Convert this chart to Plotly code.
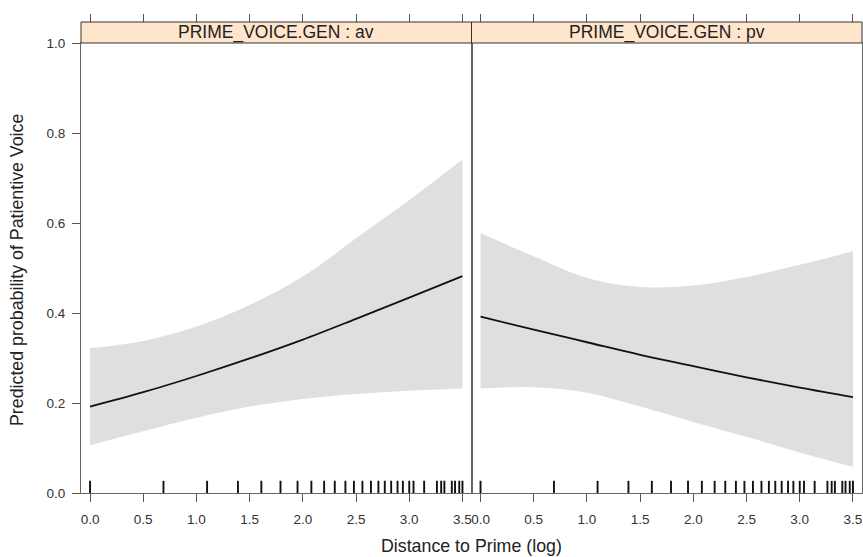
import plotly.graph_objects as go

# ---------------- data ----------------
x_grid = [0.0, 0.5, 1.0, 1.5, 2.0, 2.5, 3.0, 3.5]

fit_av   = [0.192, 0.224, 0.260, 0.299, 0.341, 0.387, 0.434, 0.482]
lower_av = [0.106, 0.137, 0.167, 0.192, 0.209, 0.220, 0.227, 0.232]
upper_av = [0.322, 0.338, 0.370, 0.418, 0.481, 0.566, 0.651, 0.741]

fit_pv   = [0.392, 0.363, 0.335, 0.307, 0.282, 0.257, 0.234, 0.213]
lower_pv = [0.232, 0.235, 0.223, 0.192, 0.158, 0.125, 0.090, 0.058]
upper_pv = [0.578, 0.526, 0.478, 0.458, 0.461, 0.480, 0.507, 0.537]

panel_levels = ["av", "pv"]
strip_prefix = "PRIME_VOICE.GEN"

# rug: observed distances (log scale)
rug_distance_log = [0.00, 0.69, 1.10, 1.39, 1.61, 1.79, 1.95, 2.08, 2.20, 2.30,
                    2.40, 2.48, 2.56, 2.64, 2.71, 2.77, 2.83, 2.89, 2.94, 3.00,
                    3.04, 3.14, 3.26, 3.30, 3.33, 3.40, 3.43, 3.47, 3.50]

x_tick_vals = [0.0, 0.5, 1.0, 1.5, 2.0, 2.5, 3.0, 3.5]
x_tick_text = ["0.0", "0.5", "1.0", "1.5", "2.0", "2.5", "3.0", "3.5"]
y_tick_vals = [0.0, 0.2, 0.4, 0.6, 0.8, 1.0]
y_tick_text = ["0.0", "0.2", "0.4", "0.6", "0.8", "1.0"]

x_title = "Distance to Prime (log)"
y_title = "Predicted probability of Patientive Voice"

# ---------------- layout geometry ----------------
W, H = 863, 557
ML, MR, MT, MB = 81, 1, 22, 64
plot_h = H - MT - MB          # includes strip
plot_w = W - ML - MR
panel_bottom_px = H - MB
panel_h = 450
ytop = panel_h / plot_h
x_range = [-0.085, 3.585]
rug_h = 0.027

FONT = "Liberation Sans, Arial, Helvetica, sans-serif"
BAND = "#DFDFDF"
AXC = "#666666"
TICK_FS = 13.5
TITLE_FS = 17.8

panels = {
    "av": (fit_av, lower_av, upper_av),
    "pv": (fit_pv, lower_pv, upper_pv),
}

fig = go.Figure()
for i, lev in enumerate(panel_levels):
    fit, lo, up = panels[lev]
    xa = "x" if i == 0 else "x2"
    ya = "y" if i == 0 else "y2"
    fig.add_trace(go.Scatter(x=x_grid, y=lo, mode="lines",
                             line=dict(width=0, shape="spline", color=BAND),
                             xaxis=xa, yaxis=ya, hoverinfo="skip", showlegend=False))
    fig.add_trace(go.Scatter(x=x_grid, y=up, mode="lines", fill="tonexty",
                             fillcolor=BAND,
                             line=dict(width=0, shape="spline", color=BAND),
                             xaxis=xa, yaxis=ya, hoverinfo="skip", showlegend=False))
    fig.add_trace(go.Scatter(x=x_grid, y=fit, mode="lines",
                             line=dict(width=1.8, shape="spline", color="#111111"),
                             xaxis=xa, yaxis=ya, showlegend=False))
    rx, ry = [], []
    for v in rug_distance_log:
        rx += [v, v, None]
        ry += [0, rug_h, None]
    fig.add_trace(go.Scatter(x=rx, y=ry, mode="lines",
                             line=dict(width=1.9, color="#111111"),
                             xaxis=xa, yaxis=ya, hoverinfo="skip", showlegend=False))

# invisible traces so the top tick axes are drawn
fig.add_trace(go.Scatter(x=[None], y=[None], xaxis="x3", yaxis="y", showlegend=False))
fig.add_trace(go.Scatter(x=[None], y=[None], xaxis="x4", yaxis="y2", showlegend=False))

xbase = dict(range=x_range, tickvals=x_tick_vals, ticktext=x_tick_text,
             ticks="outside", ticklen=8, tickcolor="#555555", tickwidth=1,
             ticklabelstandoff=6,
             showline=True, linecolor=AXC, linewidth=1, mirror=True,
             showgrid=False, zeroline=False,
             tickfont=dict(family=FONT, size=TICK_FS, color="#333333"))
xtop = dict(range=x_range, tickvals=x_tick_vals, ticks="outside", ticklen=8,
            tickcolor="#555555", tickwidth=1, showticklabels=False,
            showline=False, showgrid=False, zeroline=False,
            side="top", anchor="free", position=1)
ybase = dict(range=[0, 1], domain=[0, ytop], showgrid=False, zeroline=False,
             showline=True, linecolor=AXC, linewidth=1, mirror=True)

fig.update_layout(
    width=W, height=H,
    margin=dict(l=ML, r=MR, t=MT, b=MB, pad=0),
    paper_bgcolor="white", plot_bgcolor="white",
    showlegend=False,
    font=dict(family=FONT, size=TICK_FS, color="#333333"),
    xaxis=dict(domain=[0, 0.5], anchor="y", **xbase),
    xaxis2=dict(domain=[0.5, 1], anchor="y2", **xbase),
    xaxis3=dict(overlaying="x", **xtop),
    xaxis4=dict(overlaying="x2", **xtop),
    yaxis=dict(anchor="x", tickvals=y_tick_vals, ticktext=y_tick_text,
               ticks="outside", ticklen=8, tickcolor="#555555",
               ticklabelstandoff=4,
               tickfont=dict(family=FONT, size=TICK_FS, color="#333333"), **ybase),
    yaxis2=dict(anchor="x2", showticklabels=False, ticks="", **ybase),
)

# strips
for i, lev in enumerate(panel_levels):
    x0, x1 = (0, 0.5) if i == 0 else (0.5, 1)
    fig.add_shape(type="rect", xref="paper", yref="paper", x0=x0, x1=x1,
                  y0=ytop, y1=1, fillcolor="#FFE5CC",
                  line=dict(color="#333333", width=1), layer="above")
    fig.add_annotation(xref="paper", yref="paper", x=(x0 + x1) / 2,
                       y=(ytop + 1) / 2, text=f"{strip_prefix} : {lev}",
                       showarrow=False, xanchor="center", yanchor="middle",
                       font=dict(family=FONT, size=17.5, color="#222222"))

# axis titles
fig.add_annotation(xref="paper", yref="paper", x=0.5,
                   y=(panel_bottom_px - 546) / plot_h,
                   text=x_title, showarrow=False, xanchor="center", yanchor="middle",
                   font=dict(family=FONT, size=TITLE_FS, color="#222222"))
fig.add_annotation(xref="paper", yref="paper", x=(17 - ML) / plot_w,
                   y=(panel_bottom_px - 270) / plot_h, text=y_title, textangle=-90,
                   showarrow=False, xanchor="center", yanchor="middle",
                   font=dict(family=FONT, size=TITLE_FS, color="#222222"))

fig.write_html("out.html",
               config={"displayModeBar": False},
               post_script="document.body.style.margin='0';"
                           "document.body.style.overflow='hidden';")
